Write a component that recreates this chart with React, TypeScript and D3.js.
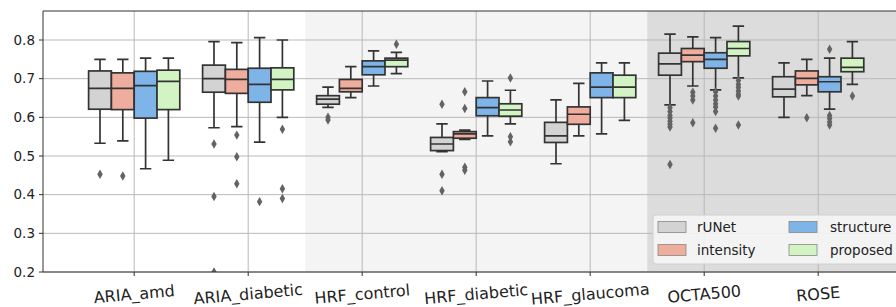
import React from 'react';
import * as d3 from 'd3';

// datasets on the x axis
const datasets = ['ARIA_amd', 'ARIA_diabetic', 'HRF_control', 'HRF_diabetic', 'HRF_glaucoma', 'OCTA500', 'ROSE'];
const methods = ['rUNet', 'intensity', 'structure', 'proposed'];
const methodColors = ['#d3d3d3', '#efad9d', '#7fb4e9', '#d2f4c3'];
const yTicks = [0.2, 0.3, 0.4, 0.5, 0.6, 0.7, 0.8];

// box stats per dataset: [whiskerLow, q1, median, q3, whiskerHigh]
const rUNetStats = [
  [0.533, 0.621, 0.675, 0.72, 0.75],
  [0.573, 0.665, 0.7, 0.735, 0.796],
  [0.626, 0.634, 0.647, 0.656, 0.678],
  [0.511, 0.514, 0.531, 0.548, 0.583],
  [0.48, 0.535, 0.552, 0.587, 0.645],
  [0.632, 0.709, 0.738, 0.766, 0.815],
  [0.6, 0.653, 0.673, 0.705, 0.741],
];
const intensityStats = [
  [0.539, 0.62, 0.675, 0.715, 0.75],
  [0.576, 0.662, 0.698, 0.724, 0.793],
  [0.651, 0.666, 0.675, 0.698, 0.731],
  [0.543, 0.546, 0.557, 0.563, 0.567],
  [0.552, 0.582, 0.608, 0.627, 0.688],
  [0.681, 0.744, 0.761, 0.778, 0.808],
  [0.656, 0.684, 0.701, 0.72, 0.75],
];
const structureStats = [
  [0.467, 0.598, 0.682, 0.719, 0.753],
  [0.536, 0.639, 0.685, 0.727, 0.806],
  [0.681, 0.71, 0.731, 0.746, 0.772],
  [0.552, 0.604, 0.625, 0.651, 0.694],
  [0.557, 0.651, 0.678, 0.715, 0.741],
  [0.671, 0.727, 0.75, 0.767, 0.806],
  [0.621, 0.666, 0.692, 0.705, 0.753],
];
const proposedStats = [
  [0.489, 0.62, 0.693, 0.722, 0.753],
  [0.6, 0.671, 0.698, 0.728, 0.8],
  [0.713, 0.731, 0.748, 0.753, 0.768],
  [0.583, 0.603, 0.619, 0.635, 0.67],
  [0.592, 0.651, 0.678, 0.709, 0.741],
  [0.702, 0.759, 0.778, 0.796, 0.836],
  [0.685, 0.718, 0.729, 0.753, 0.796],
];

// outliers per dataset
const rUNetOut = [
  [0.453],
  [0.531, 0.395, 0.2],
  [0.6, 0.593],
  [0.634, 0.453, 0.41],
  [],
  [0.625, 0.615, 0.605, 0.598, 0.59, 0.582, 0.575, 0.478],
  [],
];
const intensityOut = [
  [0.448],
  [0.554, 0.498, 0.428],
  [],
  [0.666, 0.623, 0.471, 0.463],
  [],
  [0.665, 0.655, 0.645, 0.586],
  [0.599],
];
const structureOut = [
  [],
  [0.382],
  [],
  [],
  [],
  [0.666, 0.655, 0.645, 0.635, 0.627, 0.615, 0.572],
  [0.776, 0.605, 0.597, 0.588, 0.58],
];
const proposedOut = [
  [],
  [0.569, 0.415, 0.39],
  [0.789],
  [0.702, 0.55, 0.537],
  [],
  [0.695, 0.685, 0.677, 0.668, 0.66, 0.655, 0.58],
  [0.655],
];

const allStats = [rUNetStats, intensityStats, structureStats, proposedStats];
const allOut = [rUNetOut, intensityOut, structureOut, proposedOut];

const W = 896;
const H = 307;
const font = 'DejaVu Sans, sans-serif';
const lineCol = '#333';

export default function App() {
  const x = d3.scaleLinear().domain([-0.8, 6.8]).range([43, 43 + 7.6 * 114]);
  const y = d3.scaleLinear().domain([0.2, 0.875]).range([272, 11]);
  const unit = x(1) - x(0);
  const boxW = 0.2 * unit;
  const diamond = d3.symbol().type(d3.symbolDiamond).size(26)();

  const left = x.range()[0];
  const right = x.range()[1];
  const top = y.range()[1];
  const bottom = y.range()[0];

  return (
    <svg width={W} height={H} style={{ position: 'absolute', left: 0, top: 0, background: '#fff' }}>
      <defs>
        <clipPath id="plot">
          <rect x={left} y={top} width={right - left} height={bottom - top} />
        </clipPath>
      </defs>
      {/* background bands */}
      <rect x={left} y={top} width={x(1.5) - left} height={bottom - top} fill="#ffffff" />
      <rect x={x(1.5)} y={top} width={x(4.5) - x(1.5)} height={bottom - top} fill="#f4f4f4" />
      <rect x={x(4.5)} y={top} width={right - x(4.5)} height={bottom - top} fill="#dcdcdc" />

      {/* grid */}
      {yTicks.map(t => (
        <line key={'gy' + t} x1={left} x2={right} y1={y(t)} y2={y(t)} stroke="#b9b9b9" strokeWidth={1} />
      ))}
      {datasets.map((d, i) => (
        <line key={'gx' + d} x1={x(i)} x2={x(i)} y1={top} y2={bottom} stroke="#b9b9b9" strokeWidth={1} />
      ))}

      {/* boxes */}
      <g clipPath="url(#plot)">
        {allStats.map((stats, m) =>
          stats.map((s, i) => {
            const cx = x(i + (m - 1.5) * 0.2);
            const [lo, q1, med, q3, hi] = s;
            const capW = boxW / 2;
            return (
              <g key={m + '-' + i}>
                <line x1={cx} x2={cx} y1={y(q3)} y2={y(hi)} stroke={lineCol} strokeWidth={1.7} />
                <line x1={cx} x2={cx} y1={y(q1)} y2={y(lo)} stroke={lineCol} strokeWidth={1.7} />
                <line x1={cx - capW / 2} x2={cx + capW / 2} y1={y(hi)} y2={y(hi)} stroke={lineCol} strokeWidth={1.7} />
                <line x1={cx - capW / 2} x2={cx + capW / 2} y1={y(lo)} y2={y(lo)} stroke={lineCol} strokeWidth={1.7} />
                <rect x={cx - boxW / 2} y={y(q3)} width={boxW} height={y(q1) - y(q3)}
                  fill={methodColors[m]} stroke={lineCol} strokeWidth={1.7} />
                <line x1={cx - boxW / 2} x2={cx + boxW / 2} y1={y(med)} y2={y(med)} stroke={lineCol} strokeWidth={1.7} />
                {allOut[m][i].map((v, k) => (
                  <path key={k} d={diamond} transform={`translate(${cx},${y(v)})`} fill="#636363" />
                ))}
              </g>
            );
          })
        )}
      </g>

      {/* spines */}
      <line x1={left} x2={left} y1={top} y2={bottom} stroke={lineCol} strokeWidth={1} />
      <line x1={left} x2={right} y1={top} y2={top} stroke={lineCol} strokeWidth={1} />
      <line x1={left} x2={right} y1={bottom} y2={bottom} stroke={lineCol} strokeWidth={1} />
      <line x1={right} x2={right} y1={top} y2={bottom} stroke={lineCol} strokeWidth={1} />

      {/* y axis */}
      {yTicks.map(t => (
        <g key={'yt' + t}>
          <line x1={left - 4} x2={left} y1={y(t)} y2={y(t)} stroke={lineCol} />
          <text x={left - 8} y={y(t)} dy="0.35em" textAnchor="end" fontFamily={font} fontSize={13.5} fill="#222">
            {d3.format('.1f')(t)}
          </text>
        </g>
      ))}

      {/* x axis */}
      {datasets.map((d, i) => (
        <g key={'xt' + d}>
          <line x1={x(i)} x2={x(i)} y1={bottom} y2={bottom + 4} stroke={lineCol} />
          <text transform={`translate(${x(i)},${bottom + 22}) rotate(-5)`} textAnchor="middle" dy="0.35em"
            fontFamily={font} fontSize={16} fill="#222">
            {d}
          </text>
        </g>
      ))}

      {/* legend */}
      <g transform="translate(653,215)">
        <rect x={0} y={0} width={252} height={49} rx={3} fill="#f7f7f7" fillOpacity={0.85} stroke="#d0d0d0" />
        {methods.map((m, k) => {
          const col = Math.floor(k / 2);
          const row = k % 2;
          const px = 5 + col * 131;
          const py = 12 + row * 23;
          return (
            <g key={m}>
              <rect x={px} y={py - 5.5} width={28} height={11} fill={methodColors[k]} stroke="#888" strokeWidth={0.8} />
              <text x={px + 39 + col * 2} y={py} dy="0.35em" fontFamily={font} fontSize={13.5} fill="#222">{m}</text>
            </g>
          );
        })}
      </g>
    </svg>
  );
}
